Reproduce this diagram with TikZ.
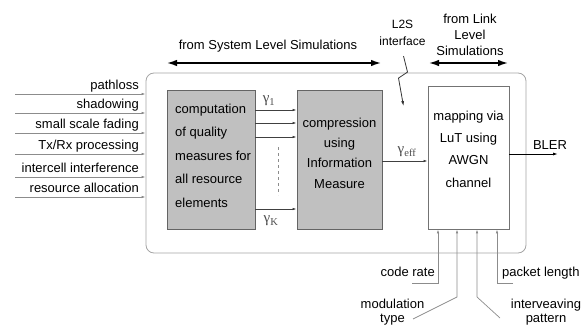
\documentclass[tikz,border=0pt]{standalone}
\usepackage{fontspec}
\setmainfont{Liberation Sans}
\newfontfamily\grkfont{Liberation Serif}
\usetikzlibrary{arrows.meta, positioning}

\definecolor{boxgray}{RGB}{192,192,192}
\definecolor{edgegray}{RGB}{100,100,100}
\definecolor{framegray}{RGB}{165,165,165}
\definecolor{feedgray}{RGB}{140,140,140}

\newcommand{\qm}[1]{{\grkfont γ\textsubscript{#1}}}

\tikzset{
  lbl/.style={inner sep=0pt, font=\fontsize{13}{16}\selectfont},
  sym/.style={inner sep=0pt, text=black!70, font=\fontsize{15}{16}\selectfont},
  block/.style={draw=edgegray, line width=0.8pt, fill=boxgray, inner sep=0pt},
  feed/.style={draw=feedgray, line width=0.7pt, -{Latex[length=4pt,width=2.5pt]}},
  fat/.style={line width=2.4pt, {Latex[length=11pt,width=6.5pt]}-{Latex[length=11pt,width=6.5pt]}},
}

\begin{document}
\begin{tikzpicture}[x=1pt, y=-1pt]
    \useasboundingbox (0,0) rectangle (586,329);
    % simulator frame
    \node[draw=framegray, line width=0.8pt, rounded corners=8pt, minimum width=380pt, minimum height=180pt] (sys) at (336,163) {};
    % blocks
    \node[block, minimum width=88pt, minimum height=139pt] (comp) at (211,159.5) {};
    \node[block, minimum width=85pt, minimum height=139pt] (cmp) at (339.5,159.5) {};
    \node[block, draw=black!55, fill=white, minimum width=81pt, minimum height=143pt] (map) at (468.5,157.5) {};
    \node[lbl, align=left, anchor=north west, font=\fontsize{13}{23.5}\selectfont] at (175,103.5)
        {computation\\of quality\\measures for\\all resource\\elements};
    \node[lbl, align=center, anchor=north, font=\fontsize{13}{20.4}\selectfont] at (cmp.north |- 0,117.5)
        {compression\\using\\Information\\Measure};
    \node[lbl, align=center, anchor=north, font=\fontsize{13}{22.4}\selectfont] at (map.north |- 0,110.5)
        {mapping via\\LuT using\\AWGN\\channel};
    % inputs from the left
    \foreach \y/\t [count=\i] in {94/pathloss, 113/shadowing, 133/small scale fading,
        154/{Tx/Rx processing}, 177/intercell interference, 197/resource allocation} {
        \coordinate (in\i) at (15,\y);
        \draw[feed] (in\i) -- (in\i -| sys.west);
        \node[lbl, anchor=base east] at (139,\y-5) {\t};
    }
    % quality measures
    \foreach \y in {110,123,137,209}
        \draw[feed, draw=black!75] (comp.east |- 0,\y) -- (cmp.west |- 0,\y);
    \draw[feedgray, dashed] (278,147) -- (278,195);
    \node[sym] at (269,101) {\qm{1}};
    \node[sym] at (271,221) {\qm{K}};
    \draw[feed, draw=black!75] (cmp.east |- 0,161) -- (map.west |- 0,161);
    \node[sym] at (407,152) {\qm{eff}};
    % output
    \coordinate (bler) at (558,154);
    \draw[line width=0.9pt, -{Latex[length=5pt,width=3pt]}] (map.east |- bler) -- (bler);
    \node[lbl, anchor=base] at (550,149) {BLER};
    % link level parameters
    \coordinate (cr) at (412,283);
    \coordinate (pl) at (513,283);
    \coordinate (mt) at (413,319);
    \coordinate (ip) at (500,318);
    \draw[feed] (cr) -| (map.south -| 438,0);
    \draw[feed] (mt) -- (457,297) -- (map.south -| 457,0);
    \draw[feed] (ip) -- (477,297) -- (map.south -| 477,0);
    \draw[feed] (pl) -| (map.south -| 497,0);
    \node[lbl, anchor=base east] at (435,276) {code rate};
    \node[lbl, anchor=base west] at (502,276) {packet length};
    \node[lbl, align=center, anchor=north, font=\fontsize{13}{14.5}\selectfont] at (392.5,298.5) {modulation\\type};
    \node[lbl, align=center, anchor=north, font=\fontsize{13}{14.5}\selectfont] at (546,298.5) {interveaving\\pattern};
    % simulation levels
    \node[lbl, anchor=base] (sls) at (268,50) {from System Level Simulations};
    \draw[fat] (166,63) -- (382,63);
    \node[lbl, align=center, anchor=north, font=\fontsize{13}{16.3}\selectfont] (lls) at (470,13.5) {from Link\\Level\\Simulations};
    \draw[fat] (428,63) -- (509,63);
    \node[lbl, align=center, anchor=north, font=\fontsize{12}{17.7}\selectfont] (l2s) at (402.5,19.5) {L2S\\interface};
    \draw[black!80, line width=0.8pt, -{Latex[length=5pt,width=3pt]}]
        (l2s.south) ++(1,10) -- ++(4,16) -- ++(-9,6) -- ++(5,28);
\end{tikzpicture}
\end{document}
